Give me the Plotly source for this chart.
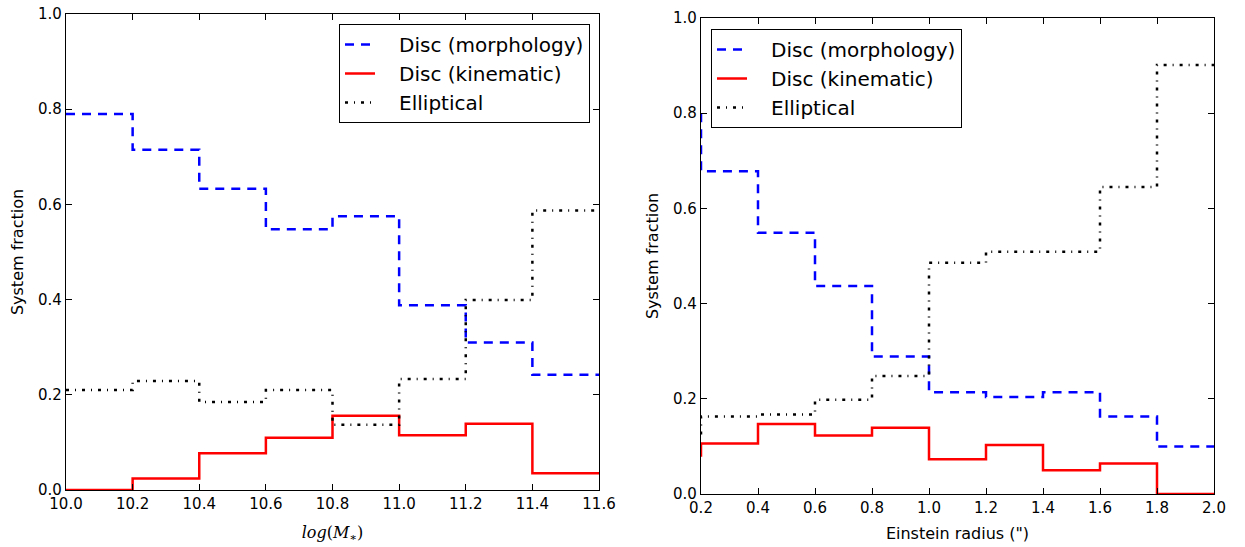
import plotly.graph_objects as go

# ---- Data ----
mass_edges = [10.0, 10.2, 10.4, 10.6, 10.8, 11.0, 11.2, 11.4, 11.6]
mass_morph = [0.79, 0.79, 0.715, 0.633, 0.548, 0.575, 0.388, 0.31, 0.242]
mass_kin = [0.0, 0.0, 0.024, 0.077, 0.11, 0.156, 0.115, 0.139, 0.035]
mass_ell = [0.21, 0.21, 0.229, 0.185, 0.21, 0.137, 0.233, 0.399, 0.587]

rein_edges = [0.2, 0.4, 0.6, 0.8, 1.0, 1.2, 1.4, 1.6, 1.8, 2.0]
rein_morph = [0.80, 0.678, 0.549, 0.437, 0.289, 0.214, 0.204, 0.214, 0.163, 0.100]
rein_kin = [0.078, 0.106, 0.147, 0.123, 0.139, 0.073, 0.103, 0.050, 0.064, 0.0]
rein_ell = [0.125, 0.163, 0.167, 0.198, 0.248, 0.486, 0.509, 0.509, 0.645, 0.901]

names = ["Disc (morphology)", "Disc (kinematic)", "Elliptical"]
colors = ["#0000ff", "#ff0000", "#000000"]
dashes = ["9px,7px", "solid", "3px,6px,1px,6px"]
PAD = "\u00a0\u00a0\u00a0"

fig = go.Figure()

for i, ys in enumerate([mass_morph, mass_kin, mass_ell]):
    fig.add_trace(go.Scatter(
        x=mass_edges, y=ys, mode="lines", name=PAD + names[i],
        line=dict(color=colors[i], width=2.5, dash=dashes[i], shape="vh"),
        xaxis="x", yaxis="y", legend="legend"))

for i, ys in enumerate([rein_morph, rein_kin, rein_ell]):
    fig.add_trace(go.Scatter(
        x=rein_edges, y=ys, mode="lines", name=PAD + names[i],
        line=dict(color=colors[i], width=2.5, dash=dashes[i], shape="vh"),
        xaxis="x2", yaxis="y2", legend="legend2"))

W, H = 1245, 547
axis_common = dict(
    showline=True, linecolor="black", linewidth=1.2, mirror="ticks",
    ticks="inside", ticklen=6, tickwidth=1, tickcolor="black",
    showgrid=False, zeroline=False, tickformat=".1f", automargin=False,
    tickfont=dict(family="DejaVu Sans", size=15, color="black"),
)

legend_common = dict(
    bordercolor="black", borderwidth=1, bgcolor="white",
    font=dict(size=20), tracegroupgap=0,
)

fig.update_layout(
    width=W, height=H,
    margin=dict(l=0, r=0, t=0, b=0, autoexpand=False),
    paper_bgcolor="white", plot_bgcolor="white",
    font=dict(family="DejaVu Sans", color="black"),
    xaxis=dict(axis_common, domain=[66 / W, 599 / W], range=[10.0, 11.6],
               dtick=0.2, tick0=10.0, anchor="y",
               title=dict(text="<i>log</i>(<i>M</i><sub>∗</sub>)",
                          font=dict(family="DejaVu Serif", size=16), standoff=14)),
    yaxis=dict(axis_common, domain=[1 - 490 / H, 1 - 14 / H], range=[0, 1.0],
               dtick=0.2, anchor="x",
               title=dict(text="System fraction", font=dict(size=16), standoff=10)),
    xaxis2=dict(axis_common, domain=[701 / W, 1214 / W], range=[0.2, 2.0],
                dtick=0.2, tick0=0.2, anchor="y2",
                title=dict(text='Einstein radius (")', font=dict(size=16), standoff=11)),
    yaxis2=dict(axis_common, domain=[1 - 494 / H, 1 - 18 / H], range=[0, 1.0],
                dtick=0.2, anchor="x2",
                title=dict(text="System fraction", font=dict(size=16), standoff=10)),
    legend=dict(legend_common, x=590 / W, xanchor="right", y=1 - 24 / H, yanchor="top"),
    legend2=dict(legend_common, x=711 / W, xanchor="left", y=1 - 29 / H, yanchor="top"),
)

fig.write_html("out.html")
